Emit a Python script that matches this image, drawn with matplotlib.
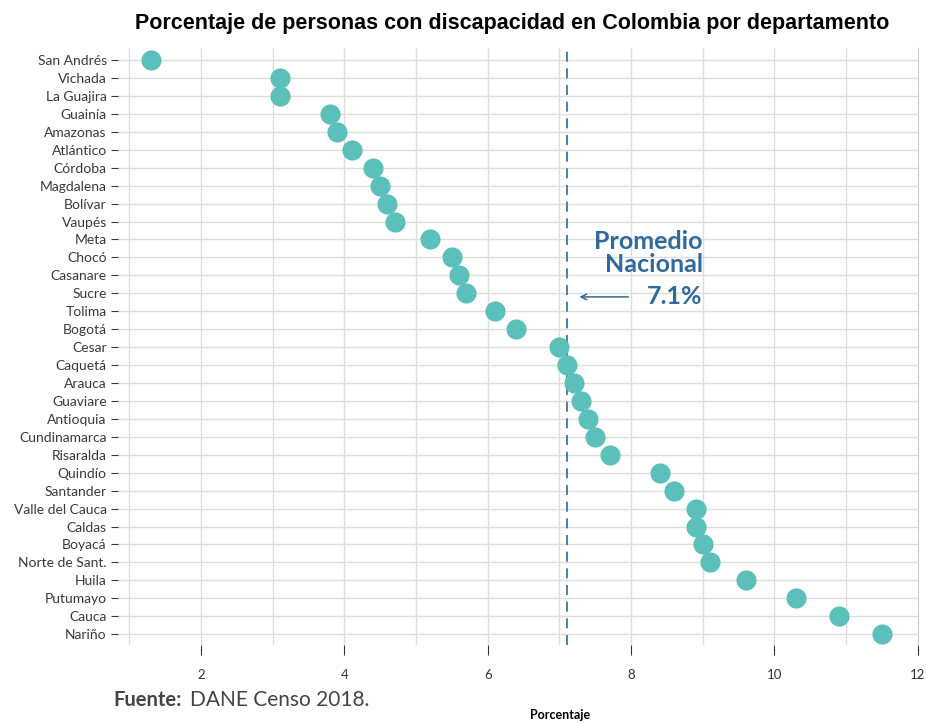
import matplotlib.pyplot as plt

# Datos (porcentaje de personas con discapacidad)
departamentos = ["San Andrés", "Vichada", "La Guajira", "Guainía", "Amazonas", "Atlántico",
                 "Córdoba", "Magdalena", "Bolívar", "Vaupés", "Meta", "Chocó", "Casanare",
                 "Sucre", "Tolima", "Bogotá", "Cesar", "Caquetá", "Arauca", "Guaviare",
                 "Antioquia", "Cundinamarca", "Risaralda", "Quindío", "Santander",
                 "Valle del Cauca", "Caldas", "Boyacá", "Norte de Sant.", "Huila",
                 "Putumayo", "Cauca", "Nariño"]
porcentaje = [1.3, 3.1, 3.1, 3.8, 3.9, 4.1, 4.4, 4.5, 4.6, 4.7, 5.2, 5.5, 5.6, 5.7, 6.1, 6.4,
              7.0, 7.1, 7.2, 7.3, 7.4, 7.5, 7.7, 8.4, 8.6, 8.9, 8.9, 9.0, 9.1, 9.6, 10.3,
              10.9, 11.5]
promedio = 7.1
ticks_x = [2, 4, 6, 8, 10, 12]
grid_x = list(range(1, 12))

azul = "#2e6a9e"
plt.rcParams['font.family'] = ['Lato', 'DejaVu Sans']

fig = plt.figure(figsize=(9.28, 7.23), dpi=100)
ax = fig.add_axes([0.127, 0.108, 0.862, 0.825])

pos = list(range(len(departamentos)))
ax.scatter(porcentaje, pos, s=210, color="#5bbfba", zorder=3, linewidths=0)

# lineas verticales de la grilla (cada unidad)
for g in grid_x:
    ax.axvline(g, color="#dddddd", linewidth=1, zorder=0)

# Linea del promedio nacional
ax.axvline(promedio, color=azul, linestyle=(0, (6, 4)), linewidth=1.2, zorder=2)
ax.annotate("", xy=(7.24, 13.2), xytext=(8.0, 13.2),
            arrowprops=dict(arrowstyle="->", color=azul, lw=1.1))
ax.text(9.0, 10.75, "Promedio\nNacional", ha="right", va="center", color=azul,
        fontsize=18, fontweight="bold", linespacing=1.0)
ax.text(9.0, 13.2, "7.1%", ha="right", va="center", color=azul, fontsize=18,
        fontweight="bold")

ax.set_yticks(pos)
ax.set_yticklabels(departamentos, fontsize=10, color="#3a3a3a")
ax.set_ylim(len(departamentos) - 0.4, -0.65)
ax.set_xlim(0.84, 12.0)
ax.set_xticks(ticks_x)
ax.tick_params(axis="x", labelsize=9.5, colors="#333333", length=7, pad=10)
ax.tick_params(axis="y", length=5, pad=3, colors="#3a3a3a")
ax.grid(True, axis="y", color="#dddddd", linewidth=1, zorder=0)
ax.set_axisbelow(True)
for s in ["top", "left", "bottom"]:
    ax.spines[s].set_visible(False)
ax.spines["right"].set_color("#cccccc")

ax.set_xlabel("Porcentaje", fontsize=9, fontweight="bold")
ax.xaxis.set_label_coords(0.5525, -0.107)

fig.suptitle("Porcentaje de personas con discapacidad en Colombia por departamento",
             x=0.552, y=0.982, fontsize=15.5, fontweight="bold", family="Liberation Sans")
fig.text(0.122, 0.032, "Fuente:", fontsize=14.5, fontweight="bold", color="#444444",
         va="center")
fig.text(0.205, 0.032, "DANE Censo 2018.", fontsize=15, color="#444444", va="center")

fig.savefig("out.png", dpi=100)
